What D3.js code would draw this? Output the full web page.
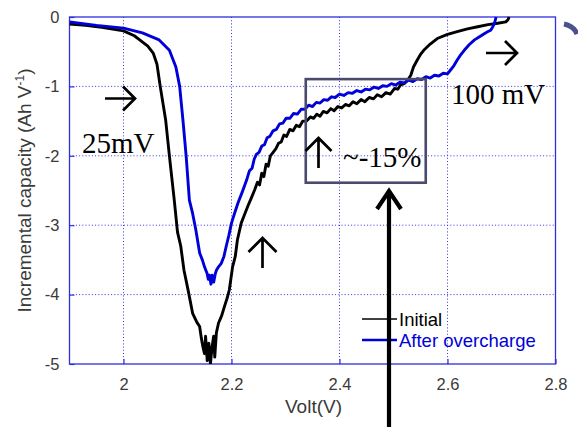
<!DOCTYPE html>
<html>
<head>
<meta charset="utf-8">
<script src="https://cdn.jsdelivr.net/npm/d3@7"></script>
<style>
  html, body { margin: 0; padding: 0; background: #fff; }
  svg { display: block; }
</style>
</head>
<body>
<svg id="chart" width="578" height="427"></svg>
<script>
// Incremental capacity (dQ/dV) curves vs. cell voltage
const initialVolt = [1.90, 1.93, 1.96, 2.00, 2.02, 2.03, 2.045, 2.055, 2.062, 2.068, 2.078, 2.085, 2.094,
  2.100, 2.106, 2.112, 2.120, 2.128, 2.136, 2.141, 2.144, 2.147, 2.150, 2.152, 2.155, 2.158, 2.161, 2.164,
  2.167, 2.169, 2.172, 2.176, 2.182, 2.187, 2.192, 2.196, 2.202, 2.207, 2.211, 2.218, 2.224, 2.230, 2.236,
  2.243, 2.248, 2.252, 2.256, 2.260, 2.264, 2.268, 2.272, 2.277, 2.282, 2.287, 2.292, 2.297, 2.302, 2.308,
  2.314, 2.320, 2.326, 2.332, 2.339, 2.346, 2.352, 2.358, 2.364, 2.370, 2.377, 2.384, 2.390, 2.397, 2.404,
  2.411, 2.418, 2.425, 2.432, 2.440, 2.447, 2.455, 2.463, 2.470, 2.478, 2.486, 2.494, 2.502, 2.508, 2.513,
  2.520, 2.527, 2.532, 2.537, 2.544, 2.550, 2.556, 2.568, 2.581, 2.600, 2.618, 2.637, 2.656, 2.675, 2.693,
  2.708, 2.712, 2.714];
const initialCap = [-0.10, -0.12, -0.15, -0.20, -0.27, -0.33, -0.42, -0.52, -0.68, -1.00, -1.48, -2.00, -2.64,
  -3.10, -3.30, -3.65, -3.95, -4.27, -4.40, -4.46, -4.62, -4.75, -4.85, -4.60, -4.95, -4.70, -5.00, -4.75,
  -4.60, -4.90, -4.55, -4.41, -4.30, -4.17, -4.05, -3.93, -3.60, -3.45, -3.21, -2.97, -2.85, -2.73, -2.62,
  -2.49, -2.38, -2.42, -2.25, -2.30, -2.12, -2.15, -2.00, -1.95, -1.90, -1.82, -1.80, -1.70, -1.72, -1.62,
  -1.64, -1.56, -1.58, -1.50, -1.50, -1.44, -1.46, -1.40, -1.43, -1.36, -1.38, -1.32, -1.35, -1.29, -1.31,
  -1.26, -1.28, -1.22, -1.25, -1.19, -1.22, -1.16, -1.18, -1.12, -1.15, -1.09, -1.11, -1.03, -1.04, -0.98,
  -0.96, -0.90, -0.84, -0.72, -0.62, -0.54, -0.48, -0.39, -0.31, -0.25, -0.21, -0.17, -0.14, -0.11, -0.09,
  -0.07, -0.04, 0.00];

const overchargeVolt = [1.90, 1.95, 2.00, 2.035, 2.066, 2.085, 2.097, 2.104, 2.110, 2.116, 2.122, 2.128,
  2.134, 2.141, 2.146, 2.150, 2.153, 2.155, 2.157, 2.159, 2.162, 2.164, 2.167, 2.170, 2.172, 2.176, 2.181,
  2.186, 2.190, 2.195, 2.200, 2.206, 2.212, 2.220, 2.228, 2.233, 2.238, 2.242, 2.246, 2.251, 2.256, 2.261,
  2.266, 2.271, 2.277, 2.283, 2.289, 2.295, 2.301, 2.308, 2.315, 2.322, 2.329, 2.336, 2.343, 2.350, 2.357,
  2.364, 2.371, 2.378, 2.385, 2.392, 2.400, 2.408, 2.416, 2.424, 2.432, 2.440, 2.448, 2.456, 2.464, 2.472,
  2.480, 2.488, 2.496, 2.504, 2.512, 2.520, 2.528, 2.536, 2.544, 2.552, 2.560, 2.568, 2.576, 2.584, 2.592,
  2.600, 2.606, 2.612, 2.618, 2.624, 2.631, 2.640, 2.650, 2.660, 2.668, 2.675, 2.680, 2.684, 2.687, 2.690];
const overchargeCap = [-0.07, -0.12, -0.16, -0.23, -0.33, -0.48, -0.72, -1.00, -1.48, -2.00, -2.64, -2.83,
  -3.07, -3.40, -3.50, -3.60, -3.66, -3.70, -3.78, -3.72, -3.85, -3.72, -3.82, -3.70, -3.65, -3.60, -3.55,
  -3.45, -3.31, -3.15, -2.97, -2.82, -2.68, -2.52, -2.35, -2.22, -2.18, -2.05, -1.98, -1.95, -1.86, -1.84,
  -1.74, -1.72, -1.64, -1.62, -1.54, -1.53, -1.46, -1.46, -1.39, -1.40, -1.33, -1.33, -1.27, -1.29, -1.23,
  -1.24, -1.19, -1.20, -1.15, -1.16, -1.11, -1.13, -1.09, -1.10, -1.06, -1.08, -1.04, -1.05, -1.01, -1.03,
  -0.99, -1.00, -0.96, -0.98, -0.94, -0.95, -0.91, -0.93, -0.89, -0.90, -0.86, -0.88, -0.84, -0.85, -0.81,
  -0.82, -0.76, -0.70, -0.62, -0.55, -0.48, -0.40, -0.33, -0.28, -0.24, -0.21, -0.19, -0.14, -0.09, 0.00];

const xTicks = [2, 2.2, 2.4, 2.6, 2.8];
const xTickLabels = ["2", "2.2", "2.4", "2.6", "2.8"];
const yTicks = [0, -1, -2, -3, -4, -5];
const yTickLabels = ["0", "-1", "-2", "-3", "-4", "-5"];
const seriesNames = ["Initial", "After overcharge"];

const svg = d3.select("#chart");
const plotL = 69.5, plotR = 555.5, plotT = 17, plotB = 364;

const x = d3.scaleLinear().domain([1.9, 2.8]).range([plotL, plotR]);
const y = d3.scaleLinear().domain([-5, 0]).range([plotB, plotT]);

const axisBlue = "#2f2fe0";
const gridBlue = "#3535e6";

// Dotted grid
const grid = svg.append("g");
grid.selectAll("line.gx").data(xTicks.filter(t => t > 1.9 && t < 2.8)).join("line")
  .attr("x1", d => x(d)).attr("x2", d => x(d)).attr("y1", plotT).attr("y2", plotB)
  .attr("stroke", gridBlue).attr("stroke-width", 1).attr("stroke-dasharray", "1,2.2");
grid.selectAll("line.gy").data(yTicks.filter(t => t > -5 && t < 0)).join("line")
  .attr("x1", plotL).attr("x2", plotR).attr("y1", d => y(d)).attr("y2", d => y(d))
  .attr("stroke", gridBlue).attr("stroke-width", 1).attr("stroke-dasharray", "1,2.2");

// Axes with inward ticks
const xAxis = d3.axisBottom(x).tickValues(xTicks).tickFormat((d, i) => xTickLabels[i]).tickSizeInner(-5).tickSizeOuter(0).tickPadding(14);
const yAxis = d3.axisLeft(y).tickValues(yTicks).tickFormat((d, i) => yTickLabels[i]).tickSizeInner(-5).tickSizeOuter(0).tickPadding(10);

const gx = svg.append("g").attr("transform", `translate(0,${plotB})`).call(xAxis);
const gy = svg.append("g").attr("transform", `translate(${plotL},0)`).call(yAxis);
[gx, gy].forEach(g => {
  g.select(".domain").remove();
  g.selectAll(".tick line").attr("stroke", axisBlue).attr("stroke-width", 1.2);
  g.selectAll(".tick text").attr("fill", "#3a3a3a").attr("font-family", "Arial, 'Liberation Sans', sans-serif").attr("font-size", 16.5);
});

// Plot frame
svg.append("rect").attr("x", plotL).attr("y", plotT).attr("width", plotR - plotL).attr("height", plotB - plotT)
  .attr("fill", "none").attr("stroke", axisBlue).attr("stroke-width", 1.3);

// Curves
svg.append("clipPath").attr("id", "plotclip").append("rect")
  .attr("x", plotL).attr("y", plotT - 2).attr("width", plotR - plotL).attr("height", plotB - plotT + 2);

const line = d3.line().x(d => x(d[0])).y(d => y(d[1]));
const initialPts = initialVolt.map((v, i) => [v, initialCap[i]]);
const overchargePts = overchargeVolt.map((v, i) => [v, overchargeCap[i]]);

const curves = svg.append("g").attr("clip-path", "url(#plotclip)");
curves.append("path").datum(initialPts).attr("d", line)
  .attr("fill", "none").attr("stroke", "#000").attr("stroke-width", 2.9).attr("stroke-linejoin", "round");
curves.append("path").datum(overchargePts).attr("d", line)
  .attr("fill", "none").attr("stroke", "#0000d8").attr("stroke-width", 2.9).attr("stroke-linejoin", "round");

// Axis titles
const sans = "Arial, 'Liberation Sans', sans-serif";
svg.append("text").attr("x", (plotL + plotR) / 2 + 1).attr("y", 413).attr("text-anchor", "middle")
  .attr("font-family", sans).attr("font-size", 19).attr("fill", "#3a3a3a").text("Volt(V)");
const yt = svg.append("text").attr("transform", `translate(31,${(plotT + plotB) / 2}) rotate(-90)`)
  .attr("text-anchor", "middle").attr("font-family", sans).attr("font-size", 19).attr("fill", "#3a3a3a");
yt.append("tspan").text("Incremental capacity (Ah V");
yt.append("tspan").attr("font-size", 12).attr("dy", -7).text("-1");
yt.append("tspan").attr("dy", 7).text(")");

// Legend
const legendColors = ["#000", "#0000d8"];
const legend = svg.append("g");
seriesNames.forEach((name, i) => {
  const ly = 319 + i * 21;
  legend.append("line").attr("x1", 362).attr("x2", 397).attr("y1", ly).attr("y2", ly)
    .attr("stroke", legendColors[i]).attr("stroke-width", i === 0 ? 1.5 : 2.5);
  legend.append("text").attr("x", 399).attr("y", ly + 6.5).attr("font-family", sans).attr("font-size", 18.5)
    .attr("fill", legendColors[i]).text(name);
});

// Annotations
const serif = "'Liberation Serif', 'Times New Roman', serif";
const ann = svg.append("g");

// Highlight box around the plateau shift
ann.append("rect").attr("x", x(2.3375)).attr("y", y(-0.895)).attr("width", x(2.5597) - x(2.3375))
  .attr("height", y(-2.388) - y(-0.895)).attr("fill", "none").attr("stroke", "#4a4a6e").attr("stroke-width", 2.6);

ann.append("text").attr("x", 82).attr("y", 153).attr("font-family", serif).attr("font-size", 29).attr("fill", "#000").text("25mV");
ann.append("text").attr("x", 451).attr("y", 104).attr("font-family", serif).attr("font-size", 29).attr("fill", "#000").text("100 mV");
ann.append("text").attr("x", 343).attr("y", 167).attr("font-family", serif).attr("font-size", 29).attr("fill", "#000").text("~-15%");

function arrowRight(cx, cy, len, head) {
  ann.append("path").attr("d", `M${cx - len / 2},${cy}H${cx + len / 2}M${cx + len / 2 - head},${cy - head}L${cx + len / 2},${cy}L${cx + len / 2 - head},${cy + head}`)
    .attr("fill", "none").attr("stroke", "#000").attr("stroke-width", 2.7);
}
function arrowUp(cx, cy, len, head) {
  ann.append("path").attr("d", `M${cx},${cy + len / 2}V${cy - len / 2}M${cx - head},${cy - len / 2 + head}L${cx},${cy - len / 2}L${cx + head},${cy - len / 2 + head}`)
    .attr("fill", "none").attr("stroke", "#000").attr("stroke-width", 2.7);
}
arrowRight(120, 98.5, 30, 12);
arrowRight(501.5, 53, 31, 12);
arrowUp(262.5, 253, 30, 14);
arrowUp(318.5, 153, 30, 13);

// Long pointer from below the chart
ann.append("path").attr("d", "M389,427V192M377,209L389,191L401,209")
  .attr("fill", "none").attr("stroke", "#000").attr("stroke-width", 4.2);

// Slide decoration at the right edge
svg.append("path").attr("d", "M564,24 Q574,26 577,34")
  .attr("fill", "none").attr("stroke", "#4c5290").attr("stroke-width", 5);
</script>
</body>
</html>
